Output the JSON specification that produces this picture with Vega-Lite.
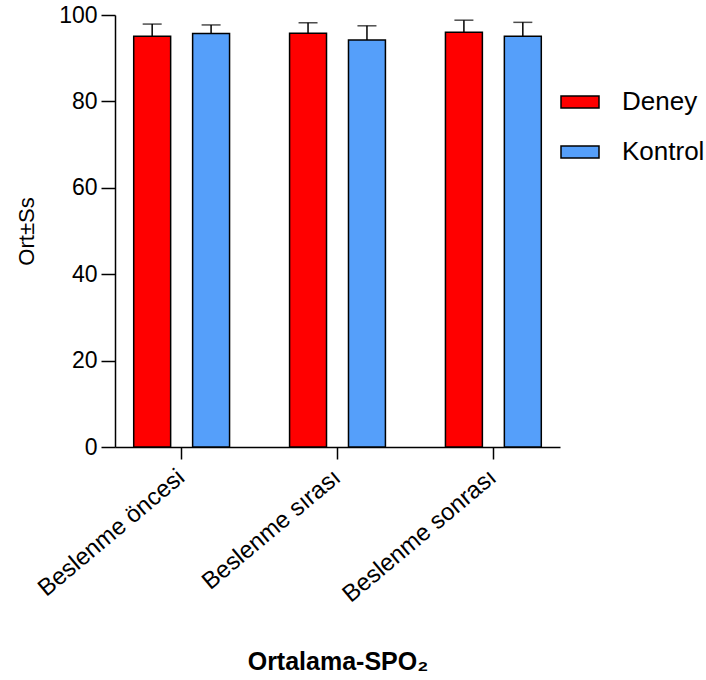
{
  "$schema": "https://vega.github.io/schema/vega-lite/v6.json",
  "autosize": {"type": "none"},
  "padding": {"left": 115, "top": 15, "right": 146, "bottom": 233},
  "width": 445,
  "height": 432,
  "background": "white",
  "config": {
    "font": "Liberation Sans",
    "view": {"stroke": null},
    "axis": {"grid": false, "domainColor": "black", "tickColor": "black", "labelColor": "black", "titleColor": "black", "domainWidth": 1.5, "tickWidth": 1.5}
  },
  "data": {
    "values": [
      {"phase": "Beslenme öncesi", "group": "Deney", "mean": 95.1, "upper": 97.9},
      {"phase": "Beslenme öncesi", "group": "Kontrol", "mean": 95.7, "upper": 97.7},
      {"phase": "Beslenme sırası", "group": "Deney", "mean": 95.8, "upper": 98.2},
      {"phase": "Beslenme sırası", "group": "Kontrol", "mean": 94.2, "upper": 97.5},
      {"phase": "Beslenme sonrası", "group": "Deney", "mean": 96.0, "upper": 98.8},
      {"phase": "Beslenme sonrası", "group": "Kontrol", "mean": 95.1, "upper": 98.3}
    ]
  },
  "encoding": {
    "x": {
      "field": "phase", "type": "nominal", "sort": null,
      "scale": {"paddingInner": 0.385, "paddingOuter": 0.12},
      "axis": {"title": "Ortalama-SPO₂", "titleFontSize": 25, "titleFontWeight": "bold", "titlePadding": 43, "labelFontSize": 24, "labelLimit": 400, "labelAngle": -40, "labelAlign": "right", "labelBaseline": "middle", "tickSize": 12, "labelPadding": 15}
    },
    "xOffset": {"field": "group", "type": "nominal", "scale": {"paddingInner": 0.373, "paddingOuter": 0}}
  },
  "layer": [
    {
      "mark": {"type": "rule", "color": "black", "strokeWidth": 1.5},
      "encoding": {
        "y": {"field": "mean", "type": "quantitative"},
        "y2": {"field": "upper"}
      }
    },
    {
      "mark": {"type": "tick", "color": "black", "thickness": 1.5, "size": 19},
      "encoding": {
        "y": {"field": "upper", "type": "quantitative"}
      }
    },
    {
      "mark": {"type": "bar", "stroke": "black", "strokeWidth": 1.5},
      "encoding": {
        "y": {
          "field": "mean", "type": "quantitative",
          "scale": {"domain": [0, 100], "nice": false},
          "axis": {"title": "Ort±Ss", "titleFontSize": 22, "titleFontWeight": "normal", "titlePadding": 20, "labelFontSize": 23, "values": [0, 20, 40, 60, 80, 100], "tickSize": 14, "labelPadding": 4}
        },
        "color": {
          "field": "group", "type": "nominal",
          "scale": {"domain": ["Deney", "Kontrol"], "range": ["#ff0000", "#559ffa"]},
          "legend": {
            "title": null, "orient": "none", "legendX": 445, "legendY": 67, "padding": 0,
            "symbolType": "M-1,-0.32H1V0.32H-1Z", "symbolSize": 1444,
            "symbolStrokeColor": "black", "symbolStrokeWidth": 1.5,
            "labelFontSize": 26, "labelColor": "black", "labelOffset": 22, "rowPadding": 17
          }
        }
      }
    }
  ]
}
